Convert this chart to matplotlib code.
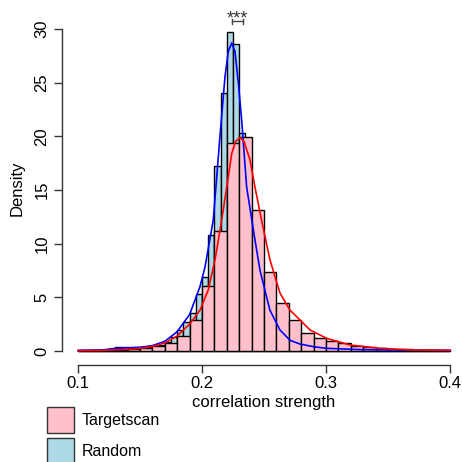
import numpy as np
import matplotlib
matplotlib.use("Agg")
import matplotlib.pyplot as plt
from matplotlib.patches import Rectangle

plt.rcParams['font.family'] = ['Liberation Sans', 'DejaVu Sans']

# Targetscan histogram, bins of 0.01 from 0.10 to 0.40
ts_density = [0.05, 0.07, 0.10, 0.14, 0.20, 0.30, 0.47, 0.78, 1.40, 2.90,
              6.06, 11.2, 19.35, 19.9, 13.1, 7.40, 4.44, 2.90, 1.70, 1.18,
              0.93, 0.71, 0.50, 0.34, 0.25, 0.16, 0.16, 0.13, 0.10, 0.06]
ts_left = np.round(0.10 + 0.01 * np.arange(len(ts_density)), 4)

# Random histogram, bins of 0.005 from 0.10 to 0.40
rnd_density = [0.08, 0.10, 0.10, 0.10, 0.12, 0.12, 0.35, 0.35, 0.30, 0.30,
               0.35, 0.40, 0.45, 0.55, 0.87, 1.33, 1.96, 2.70, 3.57, 5.30,
               6.90, 10.8, 17.2, 24.0, 29.75, 28.6, 20.3, 13.0, 8.5, 5.8,
               4.2, 3.0, 2.3, 1.7, 1.3, 1.0, 0.8, 0.6, 0.5, 0.4,
               0.3, 0.25, 0.22, 0.2, 0.18, 0.16, 0.15, 0.14, 0.12, 0.12,
               0.1, 0.1, 0.09, 0.08, 0.08, 0.07, 0.06, 0.06, 0.05, 0.05]
rnd_left = np.round(0.10 + 0.005 * np.arange(len(rnd_density)), 4)

# kernel density lines
ts_curve_x = [0.100, 0.120, 0.140, 0.150, 0.160, 0.170, 0.180, 0.190, 0.1984,
              0.2051, 0.2105, 0.2159, 0.220, 0.224, 0.227, 0.2306, 0.234,
              0.2387, 0.2427, 0.248, 0.2548, 0.2629, 0.271, 0.279, 0.2871,
              0.3006, 0.3194, 0.3435, 0.3704, 0.400]
ts_curve_y = [0.02, 0.06, 0.15, 0.25, 0.42, 0.75, 1.40, 2.50, 3.80,
              5.70, 8.50, 12.2, 15.3, 18.4, 19.5, 19.9, 19.5,
              17.8, 15.3, 12.2, 8.5, 5.4, 3.8, 2.9, 1.96,
              1.18, 0.56, 0.25, 0.09, 0.06]

rnd_curve_x = [0.100, 0.120, 0.130, 0.140, 0.150, 0.160, 0.170, 0.180, 0.190,
               0.1984, 0.2024, 0.2091, 0.2145, 0.2185, 0.2212, 0.224, 0.2266,
               0.2293, 0.232, 0.236, 0.2414, 0.2468, 0.2548, 0.2629, 0.271,
               0.279, 0.290, 0.300, 0.330, 0.370, 0.400]
rnd_curve_y = [0.05, 0.10, 0.25, 0.30, 0.35, 0.50, 0.90, 1.80, 3.40,
               6.00, 7.80, 12.2, 20.0, 25.5, 27.9, 28.7, 27.9,
               25.0, 21.5, 15.3, 11.3, 7.5, 3.8, 1.96, 1.0,
               0.65, 0.40, 0.25, 0.12, 0.08, 0.05]

yticks = [0, 5, 10, 15, 20, 25, 30]
xticks = [0.1, 0.2, 0.3, 0.4]

fig = plt.figure(figsize=(4.62, 4.62), dpi=100)
ax = fig.add_axes([62 / 462, 97 / 462, 400 / 462, 365 / 462])

ax.bar(rnd_left, rnd_density, width=0.005, align='edge',
       color='lightblue', edgecolor='black', linewidth=1.0)
ax.bar(ts_left, ts_density, width=0.01, align='edge',
       color='pink', edgecolor='black', linewidth=1.0)
ax.plot(rnd_curve_x, rnd_curve_y, color='blue', lw=1.2)
ax.plot(ts_curve_x, ts_curve_y, color='red', lw=1.2)

ax.set_xlim(0.0871, 0.4097)
ax.set_ylim(-1.304, 32.70)

for s in ['top', 'right']:
    ax.spines[s].set_visible(False)
ax.spines['left'].set_bounds(0, 30)
ax.spines['bottom'].set_bounds(0.1, 0.4)
for s in ['left', 'bottom']:
    ax.spines[s].set_color('#333333')
    ax.spines[s].set_linewidth(1.0)

ax.set_xticks(xticks)
ax.set_xticklabels([str(t) for t in xticks])
ax.set_yticks(yticks)
ax.tick_params(axis='both', direction='out', length=6, width=1.0,
               color='#333333', labelsize=12)
ax.tick_params(axis='x', pad=2)
ax.tick_params(axis='y', pad=3)
for lab in ax.get_yticklabels():
    lab.set_rotation(90)
    lab.set_va('center')

# significance bracket above the peaks
ax.plot([0.224, 0.224], [30.45, 30.95], color='#444444', lw=1.0, clip_on=False)
ax.plot([0.2333, 0.2333], [30.45, 30.95], color='#444444', lw=1.0, clip_on=False)
ax.plot([0.224, 0.2333], [30.77, 30.77], color='#444444', lw=1.0, clip_on=False)
ax.text(0.2288, 30.5, '***', ha='center', va='baseline', fontsize=13,
        color='#333333', clip_on=False)

fig.text(264 / 462, 1 - 402 / 462, 'correlation strength', ha='center',
         va='center', fontsize=12)
fig.text(17 / 462, 1 - 188 / 462, 'Density', ha='center', va='center',
         rotation=90, fontsize=12)

# legend boxes below the axis
fig.patches.append(Rectangle((47 / 462, 1 - 433 / 462), 27 / 462, 26 / 462,
                             transform=fig.transFigure, facecolor='pink',
                             edgecolor='#333333', lw=1.0))
fig.patches.append(Rectangle((47 / 462, 1 - 464 / 462), 27 / 462, 26 / 462,
                             transform=fig.transFigure, facecolor='lightblue',
                             edgecolor='#333333', lw=1.0))
fig.text(82 / 462, 1 - 421 / 462, 'Targetscan', ha='left', va='center',
         fontsize=11.5)
fig.text(82 / 462, 1 - 452 / 462, 'Random', ha='left', va='center',
         fontsize=11.5)

fig.savefig('out.png', dpi=100)
